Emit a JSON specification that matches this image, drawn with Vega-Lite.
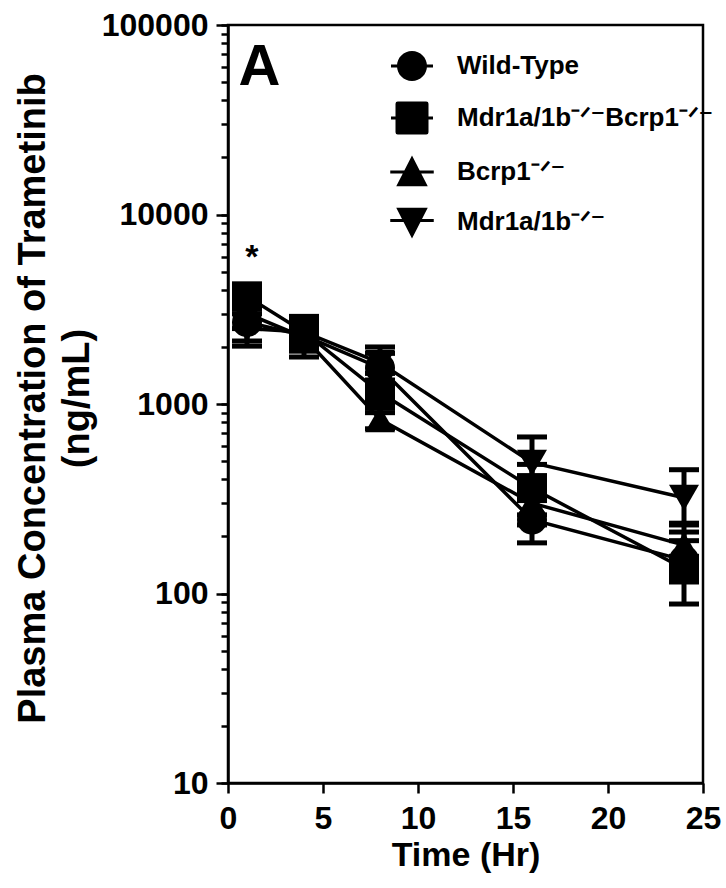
{
  "$schema": "https://vega.github.io/schema/vega-lite/v6.json",
  "autosize": "none",
  "width": 475,
  "height": 758,
  "padding": {"left": 228, "top": 25, "right": 23, "bottom": 105},
  "background": "white",
  "config": {
    "font": "Liberation Sans",
    "view": {"stroke": "black", "strokeWidth": 2.5},
    "axis": {
      "domainColor": "black", "domainWidth": 2.5, "tickColor": "black", "tickWidth": 2.5, "ticks": true,
      "labelColor": "black", "titleColor": "black", "labelFont": "Liberation Sans", "titleFont": "Liberation Sans",
      "labelFontWeight": "bold", "titleFontWeight": "bold", "grid": false
    },
    "legend": {
      "orient": "none", "legendX": 169, "legendY": 26, "padding": 0,
      "labelFont": "Liberation Sans", "labelFontWeight": "bold", "labelFontSize": 26, "labelColor": "black",
      "labelLimit": 400, "labelOffset": 30, "rowPadding": 20, "symbolSize": 900,
      "symbolFillColor": "black", "symbolStrokeColor": "black", "symbolStrokeWidth": 0
    }
  },
  "layer": [
    {
      "data": {
        "values": [
          {"group": "Wild-Type", "time": 1, "conc": 2700, "lo": 2150, "hi": 3250},
          {"group": "Wild-Type", "time": 4, "conc": 2300, "lo": 1900, "hi": 2750},
          {"group": "Wild-Type", "time": 8, "conc": 1550, "lo": 1250, "hi": 1850},
          {"group": "Wild-Type", "time": 16, "conc": 245, "lo": 185, "hi": 320},
          {"group": "Wild-Type", "time": 24, "conc": 150, "lo": 115, "hi": 211},
          {"group": "Mdr1a/1b⁻ᐟ⁻Bcrp1⁻ᐟ⁻", "time": 1, "conc": 3700, "lo": 3200, "hi": 4100},
          {"group": "Mdr1a/1b⁻ᐟ⁻Bcrp1⁻ᐟ⁻", "time": 4, "conc": 2400, "lo": 2000, "hi": 2900},
          {"group": "Mdr1a/1b⁻ᐟ⁻Bcrp1⁻ᐟ⁻", "time": 8, "conc": 1150, "lo": 900, "hi": 1450},
          {"group": "Mdr1a/1b⁻ᐟ⁻Bcrp1⁻ᐟ⁻", "time": 16, "conc": 360, "lo": 260, "hi": 480},
          {"group": "Mdr1a/1b⁻ᐟ⁻Bcrp1⁻ᐟ⁻", "time": 24, "conc": 135, "lo": 88, "hi": 190},
          {"group": " Bcrp1⁻ᐟ⁻", "time": 1, "conc": 3000, "lo": 2500, "hi": 3500},
          {"group": " Bcrp1⁻ᐟ⁻", "time": 4, "conc": 2250, "lo": 1770, "hi": 2700},
          {"group": " Bcrp1⁻ᐟ⁻", "time": 8, "conc": 830, "lo": 740, "hi": 950},
          {"group": " Bcrp1⁻ᐟ⁻", "time": 16, "conc": 300, "lo": 230, "hi": 390},
          {"group": " Bcrp1⁻ᐟ⁻", "time": 24, "conc": 180, "lo": 150, "hi": 235},
          {"group": "Mdr1a/1b⁻ᐟ⁻", "time": 1, "conc": 2500, "lo": 2020, "hi": 3000},
          {"group": "Mdr1a/1b⁻ᐟ⁻", "time": 4, "conc": 2400, "lo": 2050, "hi": 2800},
          {"group": "Mdr1a/1b⁻ᐟ⁻", "time": 8, "conc": 1650, "lo": 1330, "hi": 2000},
          {"group": "Mdr1a/1b⁻ᐟ⁻", "time": 16, "conc": 490, "lo": 360, "hi": 670},
          {"group": "Mdr1a/1b⁻ᐟ⁻", "time": 24, "conc": 320, "lo": 230, "hi": 450}
        ]
      },
      "encoding": {
        "x": {
          "field": "time", "type": "quantitative",
          "scale": {"domain": [0, 25], "nice": false, "zero": false},
          "axis": {
            "title": "Time (Hr)", "values": [0, 5, 10, 15, 20, 25], "format": "d",
            "labelFontSize": 32, "tickSize": 10, "labelPadding": 10, "labelFlush": false, "labelOverlap": false,
            "titleFontSize": 34, "titleY": 55, "titleBaseline": "top"
          }
        },
        "y": {
          "field": "conc", "type": "quantitative",
          "scale": {"type": "log", "domain": [10, 100000], "nice": false},
          "axis": {
            "title": ["Plasma Concentration of Trametinib", "(ng/mL)"],
            "values": [10,20,30,40,50,60,70,80,90,100,200,300,400,500,600,700,800,900,1000,2000,3000,4000,5000,6000,7000,8000,9000,10000,20000,30000,40000,50000,60000,70000,80000,90000,100000],
            "labelExpr": "indexof([10,100,1000,10000,100000], datum.value) >= 0 ? format(datum.value, 'd') : ''",
            "tickSize": 7, "tickCount": 40,
            "labelFontSize": 32, "labelPadding": 13, "labelOverlap": false, "labelFlush": false, "labelBound": false,
            "titleFontSize": 38, "titleLineHeight": 44, "titleX": -176, "titleY": 373
          }
        }
      },
      "layer": [
        {
          "mark": {"type": "line", "color": "black", "strokeWidth": 3.5},
          "encoding": {"detail": {"field": "group"}}
        },
        {
          "mark": {"type": "rule", "color": "black", "strokeWidth": 5},
          "encoding": {"y": {"field": "lo", "type": "quantitative"}, "y2": {"field": "hi"}}
        },
        {
          "mark": {"type": "tick", "orient": "horizontal", "color": "black", "opacity": 1, "size": 30, "thickness": 5},
          "encoding": {"y": {"field": "lo", "type": "quantitative"}}
        },
        {
          "mark": {"type": "tick", "orient": "horizontal", "color": "black", "opacity": 1, "size": 30, "thickness": 5},
          "encoding": {"y": {"field": "hi", "type": "quantitative"}}
        },
        {
          "mark": {"type": "point", "filled": true, "color": "black", "opacity": 1, "size": 900},
          "encoding": {
            "shape": {
              "field": "group", "type": "nominal",
              "scale": {"domain": ["Wild-Type", "Mdr1a/1b⁻ᐟ⁻Bcrp1⁻ᐟ⁻", " Bcrp1⁻ᐟ⁻", "Mdr1a/1b⁻ᐟ⁻"], "range": ["circle", "square", "triangle-up", "triangle-down"]},
              "legend": null
            }
          }
        },
        {
          "transform": [{"filter": "datum.time < 0"}],
          "mark": {"type": "point", "filled": true, "color": "black", "opacity": 1},
          "encoding": {
            "shape": {
              "field": "group", "type": "nominal",
              "scale": {
                "domain": ["Wild-Type", "Mdr1a/1b⁻ᐟ⁻Bcrp1⁻ᐟ⁻", " Bcrp1⁻ᐟ⁻", "Mdr1a/1b⁻ᐟ⁻"],
                "range": [
                  "M-1,0A1,1 0 1,1 1,0A1,1 0 1,1 -1,0ZM-1.4,-0.1L1.4,-0.1L1.4,0.1L-1.4,0.1Z",
                  "M-0.95,-1.1L0.95,-1.1Q1.1,-1.1 1.1,-0.95L1.1,0.95Q1.1,1.1 0.95,1.1L-0.95,1.1Q-1.1,1.1 -1.1,0.95L-1.1,-0.95Q-1.1,-1.1 -0.95,-1.1ZM-1.4,-0.1L1.4,-0.1L1.4,0.1L-1.4,0.1Z",
                  "M0,-1.1L1.05,0.95L-1.05,0.95ZM-1.45,-0.1L1.45,-0.1L1.45,0.1L-1.45,0.1Z",
                  "M0,1.1L-1.05,-0.95L1.05,-0.95ZM-1.45,-0.2L1.45,-0.2L1.45,0L-1.45,0Z"
                ]
              },
              "legend": {"title": null, "symbolStrokeWidth": 0, "symbolFillColor": "black"}
            }
          }
        }
      ],
      "resolve": {"scale": {"shape": "independent"}}
    },
    {
      "data": {"values": [{"conc": 10}]},
      "transform": [{"filter": "datum.conc < 0"}],
      "mark": {"type": "tick", "orient": "horizontal", "opacity": 0},
      "encoding": {
        "y": {
          "field": "conc", "type": "quantitative",
          "axis": {
            "orient": "left", "title": null, "labels": false, "domain": false, "tickSize": 12, "tickCount": 10,
            "values": [10, 100, 1000, 10000, 100000]
          }
        }
      }
    },
    {
      "data": {"values": [{"label": "*"}]},
      "mark": {"type": "text", "fontSize": 34, "fontWeight": "bold", "fill": "black", "baseline": "alphabetic", "align": "center"},
      "encoding": {
        "x": {"datum": 1.25, "type": "quantitative"},
        "y": {"datum": 5225, "type": "quantitative", "axis": null},
        "text": {"field": "label", "type": "nominal"}
      }
    },
    {
      "data": {"values": [{"label": "A"}]},
      "mark": {"type": "text", "fontSize": 58, "fontWeight": "bold", "fill": "black", "baseline": "alphabetic", "align": "center"},
      "encoding": {
        "x": {"datum": 1.66, "type": "quantitative"},
        "y": {"datum": 48200, "type": "quantitative", "axis": null},
        "text": {"field": "label", "type": "nominal"}
      }
    }
  ],
  "resolve": {"axis": {"y": "independent"}}
}
